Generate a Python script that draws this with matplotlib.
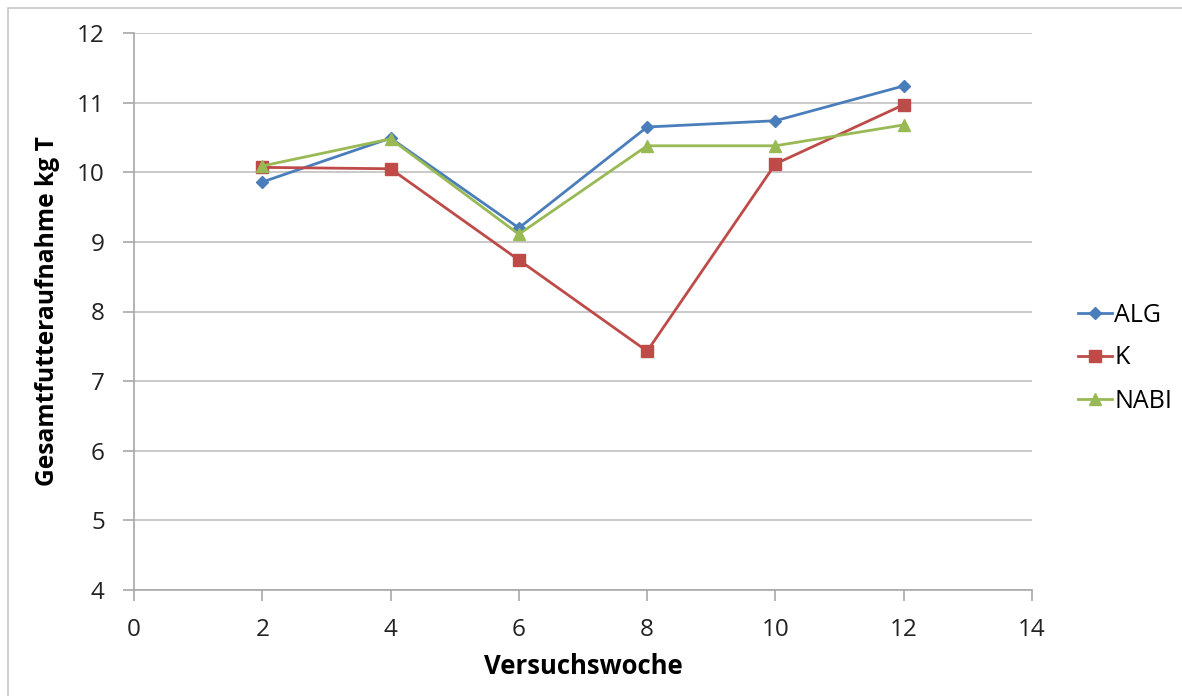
import matplotlib
matplotlib.use("Agg")
import matplotlib.pyplot as plt
from matplotlib.patches import Rectangle

weeks = [2, 4, 6, 8, 10, 12]
alg = [9.86, 10.49, 9.20, 10.65, 10.74, 11.24]
k = [10.07, 10.05, 8.74, 7.43, 10.12, 10.97]
nabi = [10.09, 10.48, 9.11, 10.38, 10.38, 10.68]
series_names = ["ALG", "K", "NABI"]
xticks = [0, 2, 4, 6, 8, 10, 12, 14]
yticks = [4, 5, 6, 7, 8, 9, 10, 11, 12]

plt.rcParams['font.family'] = ['Open Sans', 'DejaVu Sans']

fig = plt.figure(figsize=(11.82, 6.96), dpi=100)
fig.patches.append(Rectangle((8/1182, -0.1), 1.2, 1 - 8/696 + 0.1, transform=fig.transFigure,
                             fill=False, edgecolor='#c8c8c8', linewidth=1.2))
ax = fig.add_axes([134/1182, 1 - 590/696, (1032-134)/1182, (590-33)/696])

colors = ['#4a7ebb', '#be4b48', '#98b954']
ax.plot(weeks, alg, color=colors[0], marker='D', markersize=6, linewidth=2, label=series_names[0])
ax.plot(weeks, k, color=colors[1], marker='s', markersize=8, linewidth=2, label=series_names[1])
ax.plot(weeks, nabi, color=colors[2], marker='^', markersize=8, linewidth=2, label=series_names[2])

ax.set_xlim(0, 14)
ax.set_ylim(4, 12)
ax.set_xticks(xticks)
ax.set_yticks(yticks)
ax.grid(axis='y', color='#c0c0c0', linewidth=1.2)
ax.set_axisbelow(True)
for s in ['top', 'right']:
    ax.spines[s].set_visible(False)
for s in ['left', 'bottom']:
    ax.spines[s].set_color('#a8a8a8')
    ax.spines[s].set_linewidth(1.2)
ax.tick_params(axis='both', colors='#a8a8a8', length=8, width=1.2, labelcolor='#222222', labelsize=17.5)
ax.tick_params(axis='x', pad=12)
ax.tick_params(axis='y', pad=13)

ax.set_xlabel('Versuchswoche', fontsize=18.5, fontweight='bold', labelpad=8)
yl = ax.set_ylabel('Gesamtfutteraufnahme kg T', fontsize=16, fontweight='bold')

# scale y label so its length matches the reference (~350 px)
fig.canvas.draw()
r = fig.canvas.get_renderer()
h = yl.get_window_extent(r).height
yl.set_fontsize(16 * 350.0 / h)
fig.canvas.draw()
# place label centre at x ~ 48 px
yl.set_position((0, 0.5))
ax.yaxis.set_label_coords(-(134 - 48) / 898.0, 0.5)
yl.set_verticalalignment('center')

leg = ax.legend(loc='center left', bbox_to_anchor=(1.04, (590-358)/557), frameon=False, fontsize=18,
                handlelength=1.35, handletextpad=0.1, labelspacing=0.72, borderaxespad=0.0)

fig.savefig('out.png', dpi=100)
